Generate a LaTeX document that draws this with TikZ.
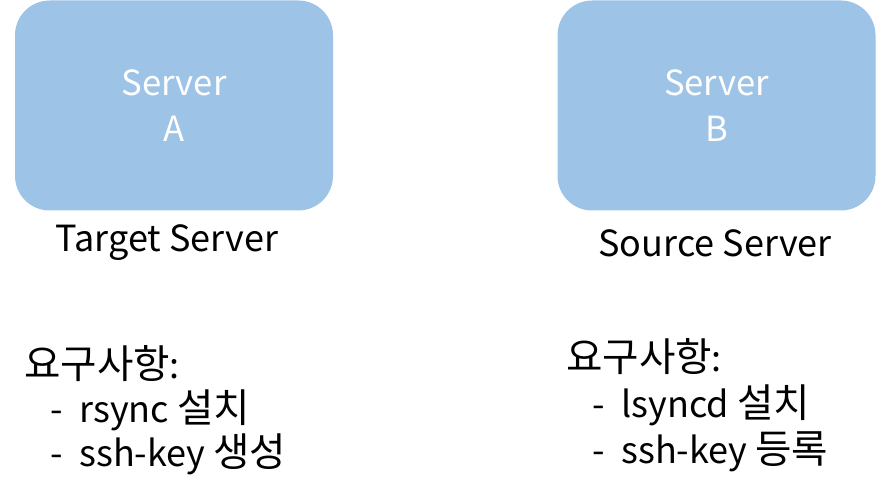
\documentclass[tikz,border=0pt]{standalone}
\usepackage{fontspec}
\setmainfont{Noto Sans CJK KR}
\newfontfamily\hangul[Scale=1.1]{Noto Sans CJK KR}
\definecolor{boxblue}{HTML}{9DC3E6}
\tikzset{
    server/.style={fill=boxblue, rounded corners=26pt, minimum width=238.5pt, minimum height=157.5pt,
        text=white, align=center, font=\fontsize{26}{34}\selectfont, inner sep=0pt},
    role/.style={font=\fontsize{27}{30}\selectfont, inner sep=0pt},
    needs/.style={font=\fontsize{27}{33}\selectfont, align=left, anchor=base west, inner sep=0pt}
}
\newcommand{\hg}[1]{{\hangul #1}}
\begin{document}
\begin{tikzpicture}[x=0.75pt, y=-0.75pt]
    \useasboundingbox (0,0) rectangle (883,499);

    % servers
    \node[server] (srvA) at (174,105.5) {Server\\A};
    \node[server] (srvB) at (716.5,105.5) {Server\\B};

    \node[role] (roleA) at (167,243) {Target Server};
    \node[role] (roleB) at (715,243) {Source Server};

    % requirements (anchored at the last line)
    \node[needs] (needA) at (24,466) {\hg{요구사항}:\\\hspace{20pt}-\hspace{12pt}rsync \hg{설치}\\\hspace{20pt}-\hspace{12pt}ssh-key \hg{생성}};
    \node[needs, font=\fontsize{27}{34.5}\selectfont] (needB) at (566,463) {\hg{요구사항}:\\\hspace{20pt}-\hspace{12pt}lsyncd \hg{설치}\\\hspace{20pt}-\hspace{12pt}ssh-key \hg{등록}};
\end{tikzpicture}
\end{document}
